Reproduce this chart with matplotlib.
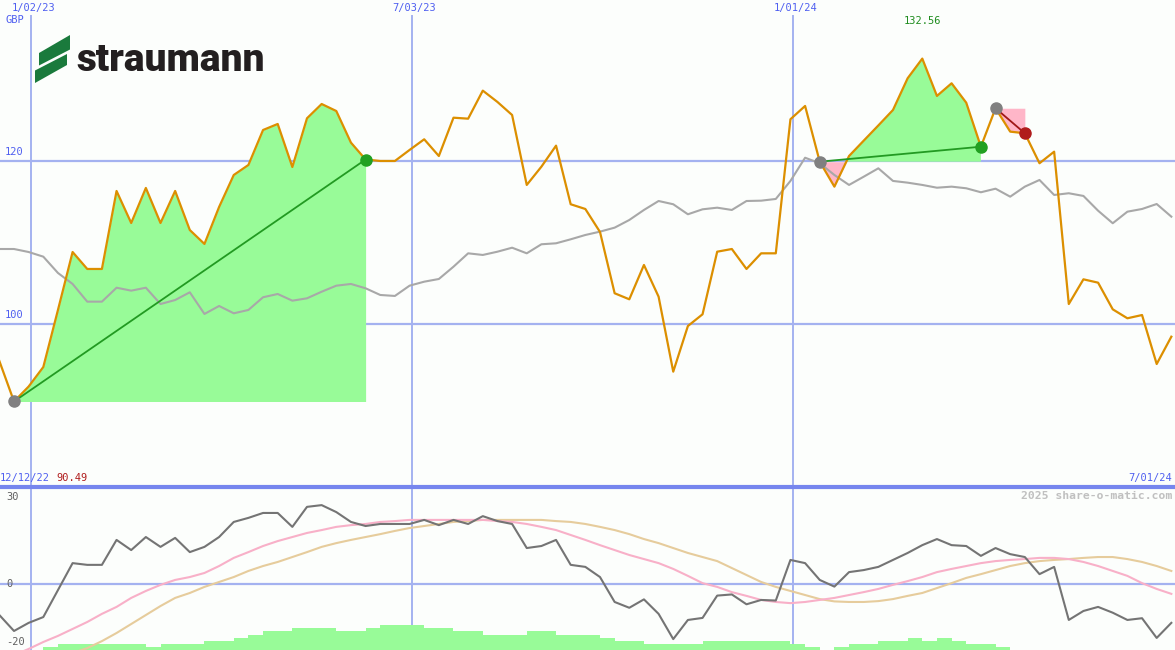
import numpy as np
import matplotlib
matplotlib.use('Agg')
import matplotlib.pyplot as plt
from matplotlib.patches import Polygon

# weekly points, index -1 .. 79
weeks = np.arange(-1, 80)

price = [95.46, 90.49, 92.33, 94.72, 101.72, 108.83, 106.75, 106.75, 116.32, 112.39,
         116.69, 112.39, 116.32, 111.53, 109.82, 114.36, 118.28, 119.51, 123.80, 124.54,
         119.26, 125.24, 126.99, 126.13, 122.25, 120.18, 120.00, 120.00, 121.35, 122.66,
         120.61, 125.31, 125.19, 128.63, 127.24, 125.64, 117.06, 119.30, 121.88, 114.69,
         114.11, 111.29, 103.77, 103.03, 107.24, 103.35, 94.15, 99.75, 101.19, 108.87,
         109.20, 106.75, 108.67, 108.67, 125.12, 126.75, 119.91, 116.85, 120.61, 122.49,
         124.36, 126.26, 130.15, 132.56, 127.98, 129.53, 127.15, 121.75, 126.47, 123.60,
         123.40, 119.72, 121.14, 102.45, 105.48, 105.07, 101.80, 100.70, 101.10, 95.09,
         98.44]

index_line = [109.20, 109.20, 108.83, 108.26, 106.26, 104.91, 102.74, 102.74, 104.45, 104.09,
              104.45, 102.45, 102.94, 103.89, 101.23, 102.21, 101.31, 101.72, 103.28, 103.68,
              102.86, 103.15, 103.96, 104.70, 104.91, 104.38, 103.56, 103.44, 104.70, 105.19,
              105.52, 107.03, 108.67, 108.47, 108.87, 109.36, 108.67, 109.78, 109.90, 110.39,
              110.92, 111.33, 111.82, 112.76, 113.99, 115.09, 114.69, 113.46, 114.07, 114.27,
              113.99, 115.09, 115.13, 115.34, 117.55, 120.40, 119.72, 118.28, 117.06, 118.07,
              119.10, 117.55, 117.34, 117.06, 116.72, 116.85, 116.65, 116.16, 116.60, 115.62,
              116.85, 117.67, 115.83, 116.04, 115.71, 113.90, 112.36, 113.78, 114.11, 114.72,
              113.17]

momentum = [-10.7, -16.2, -13.4, -11.4, -2.1, 7.2, 6.6, 6.6, 15.2, 11.7,
            16.2, 12.8, 15.9, 11.0, 12.8, 16.2, 21.4, 22.8, 24.5, 24.5,
            19.7, 26.6, 27.2, 24.8, 21.4, 20.0, 20.7, 20.7, 20.7, 22.1,
            20.3, 22.1, 20.7, 23.4, 21.7, 20.7, 12.4, 13.1, 15.2, 6.6,
            5.9, 2.4, -6.2, -8.2, -5.3, -10.3, -19.0, -12.4, -11.7, -4.0,
            -3.6, -7.0, -5.5, -5.7, 8.3, 7.2, 1.4, -0.9, 4.1, 4.8,
            5.9, 8.3, 10.7, 13.4, 15.5, 13.4, 13.1, 9.7, 12.4, 10.3,
            9.3, 3.4, 5.9, -12.4, -9.3, -7.9, -9.9, -12.4, -11.8, -18.6,
            -13.4]

avg_fast = [-26.6, -24.5, -22.4, -20.0, -17.9, -15.5, -13.1, -10.3, -7.9, -4.8,
            -2.4, -0.3, 1.4, 2.4, 3.8, 6.2, 9.0, 11.0, 13.1, 14.8,
            16.2, 17.6, 18.6, 19.7, 20.3, 20.7, 21.4, 21.7, 22.1, 22.1,
            22.1, 22.1, 22.1, 22.1, 21.7, 21.4, 20.7, 19.7, 18.6, 16.9,
            15.2, 13.4, 11.7, 10.0, 8.6, 7.2, 5.2, 2.8, 0.3, -1.0,
            -2.8, -4.1, -5.5, -6.2, -6.6, -6.2, -5.5, -4.8, -3.8, -2.8,
            -1.7, -0.3, 1.0, 2.4, 4.1, 5.2, 6.2, 7.2, 7.9, 8.3,
            8.6, 9.0, 9.0, 8.6, 7.6, 6.2, 4.5, 2.8, 0.3, -1.7,
            -3.4]

avg_slow = [-33.1, -31.4, -29.7, -27.6, -25.5, -23.8, -22.1, -19.7, -16.9, -13.8,
            -10.7, -7.6, -4.8, -3.1, -1.0, 0.7, 2.4, 4.5, 6.2, 7.6,
            9.3, 11.0, 12.8, 14.1, 15.2, 16.2, 17.2, 18.3, 19.3, 20.0,
            20.7, 21.4, 21.7, 22.1, 22.1, 22.1, 22.1, 22.1, 21.7, 21.4,
            20.7, 19.7, 18.6, 17.2, 15.5, 14.1, 12.4, 10.7, 9.3, 7.9,
            5.5, 3.1, 0.7, -1.0, -2.4, -3.8, -5.2, -6.0, -6.2, -6.2,
            -5.9, -5.2, -4.1, -3.1, -1.4, 0.3, 2.1, 3.4, 4.8, 6.2,
            7.2, 7.9, 8.3, 8.6, 9.0, 9.3, 9.3, 8.6, 7.6, 6.2,
            4.5]

bars = [0, 0, 0, 0.9, 2.1, 2.1, 2.1, 2.1, 2.1, 2.1,
        0.9, 2.1, 2.1, 2.1, 3.1, 3.1, 4.1, 5.2, 6.6, 6.6,
        7.6, 7.6, 7.6, 6.6, 6.6, 7.6, 8.6, 8.6, 8.6, 7.6,
        7.6, 6.6, 6.6, 5.2, 5.2, 5.2, 6.6, 6.6, 5.2, 5.2,
        5.2, 4.1, 3.1, 3.1, 2.1, 2.1, 2.1, 2.1, 3.1, 3.1,
        3.1, 3.1, 3.1, 3.1, 2.1, 0.9, 0, 0.9, 2.1, 2.1,
        3.1, 3.1, 4.1, 3.1, 4.1, 3.1, 2.1, 2.1, 0.9, 0,
        0, 0, 0, 0, 0, 0, 0, 0, 0, 0,
        0]

date_lines = [1.16, 27.17, 53.17]
date_labels = ['1/02/23', '7/03/23', '1/01/24']
price_grid = [100, 120]
osc_grid = [30, 0, -20]

# trade segments (start week, end week)
segments = [(0, 24), (55, 66), (67, 69)]

bg = '#fcfefc'
grid_c = '#a4b2f0'
blue_txt = '#4f5ff0'
orange = '#dc8f00'
mono = 'DejaVu Sans Mono'
W, H = 1175, 650

fig = plt.figure(figsize=(11.75, 6.5), dpi=100, facecolor=bg)
ax1 = fig.add_axes([0, 163 / H, 1, 487 / H])
ax2 = fig.add_axes([0, 0, 1, 163 / H])
xlim = (-0.956, 79.25)
for ax in (ax1, ax2):
    ax.set_xlim(*xlim)
    ax.set_axis_off()
ax1.set_ylim(80.0, 139.75)
ax2.set_ylim(-22.76, 33.45)

w = np.array(weeks)
p = np.array(price)

# grid
for g in price_grid:
    ax1.axhline(g, color=grid_c, lw=1.6, zorder=1)
    ax1.text(5 / W, g + 0.45, str(g), transform=ax1.get_yaxis_transform(),
             color=blue_txt, fontsize=7.5, family=mono, va='bottom', ha='left')
for d, lab in zip(date_lines, date_labels):
    ax1.axvline(d, ymax=(487 - 16) / 487, color=grid_c, lw=1.4, zorder=1)
    ax2.axvline(d, color=grid_c, lw=1.4, zorder=1)
    ax1.text(d + 0.15, 0.983, lab, transform=ax1.get_xaxis_transform(),
             color=blue_txt, fontsize=7.5, family=mono, ha='center', va='center')
ax1.text(5 / W, 0.959, 'GBP', transform=ax1.transAxes, color=blue_txt,
         fontsize=7.5, family=mono, ha='left', va='center')

# trade fills
s0, e0 = segments[0]
m = (w >= s0) & (w <= e0)
ax1.fill_between(w[m], p[m], price[s0 + 1], color='#98fb98', lw=0, zorder=2)
s1, e1 = segments[1]
m = (w >= s1) & (w <= e1)
base = price[s1 + 1]
ax1.fill_between(w[m], p[m], base, where=p[m] >= base, interpolate=True,
                 color='#98fb98', lw=0, zorder=2)
ax1.fill_between(w[m], p[m], base, where=p[m] <= base, interpolate=True,
                 color='#ffb6c8', lw=0, zorder=2)
s2, e2 = segments[2]
m = (w >= s2) & (w <= e2)
base = price[s2 + 1]
ax1.fill_between(w[m], p[m], base, where=p[m] <= base, interpolate=True,
                 color='#ffb6c8', lw=0, zorder=2)

ax1.plot(weeks, index_line, color='#a8a8a8', lw=1.5, zorder=3)
ax1.plot(weeks, price, color=orange, lw=1.6, zorder=4)

# trade lines and markers
for k, (s, e) in enumerate(segments):
    ps, pe = price[s + 1], price[e + 1]
    lc = '#229a22' if pe > ps else '#a01818'
    ec = '#22a022' if pe > ps else '#b01c1c'
    ax1.plot([s, e], [ps, pe], color=lc, lw=1.3, zorder=5)
    ax1.plot([s], [ps], 'o', color='#808080', ms=8, zorder=6)
    ax1.plot([e], [pe], 'o', color=ec, ms=8, zorder=6)

hi = int(np.argmax(p))
ax1.text(w[hi], 0.956, '%.2f' % p[hi], transform=ax1.get_xaxis_transform(),
         color='#1e8c1e', fontsize=7.5, family=mono, ha='center', va='center')

# logo: two slanted green bars + wordmark
upper = [(39, 53), (70, 35), (70, 49.5), (39, 65.5)]
lower = [(35, 70.5), (67, 54), (67, 65), (35, 83)]
for shape in (upper, lower):
    fig.add_artist(Polygon([(x / W, 1 - y / H) for x, y in shape], closed=True,
                           color='#1a7a3c', lw=0, transform=fig.transFigure))
fig.text(76 / W, 1 - 71 / H, 'straumann', family='Roboto', weight='heavy',
         fontsize=28, color='#231f20', ha='left', va='baseline')

# lower panel
ax2.axhline(0, color=grid_c, lw=1.6, zorder=1)
ax2.axhline(33.45, color='#7686ee', lw=3, zorder=7, clip_on=False)
ax2.bar(weeks, bars, width=1.0, align='edge', bottom=-22.76, color='#98fb98',
        lw=0, zorder=2)
ax2.plot(weeks, avg_slow, color='#e6cc9c', lw=1.5, zorder=3)
ax2.plot(weeks, avg_fast, color='#f8b0c8', lw=1.5, zorder=3)
ax2.plot(weeks, momentum, color='#747474', lw=1.5, zorder=4)
for g in osc_grid:
    ax2.text(6 / W, g, str(g), transform=ax2.get_yaxis_transform(),
             color='#606060', fontsize=7.5, family=mono, ha='left', va='center')

fig.text(0, 1 - 478 / H, '12/12/22', color=blue_txt, fontsize=7.5, family=mono,
         ha='left', va='center')
fig.text(56 / W, 1 - 478 / H, '%.2f' % min(price), color='#b01c1c',
         fontsize=7.5, family=mono, ha='left', va='center')
fig.text(1172 / W, 1 - 478 / H, '7/01/24', color=blue_txt, fontsize=7.5,
         family=mono, ha='right', va='center')
fig.text(1172 / W, 1 - 496 / H, '2025 share-o-matic.com', color='#c0c0c0',
         fontsize=8.2, family=mono, weight='bold', ha='right', va='center')

fig.savefig('out.png', dpi=100, facecolor=bg)
